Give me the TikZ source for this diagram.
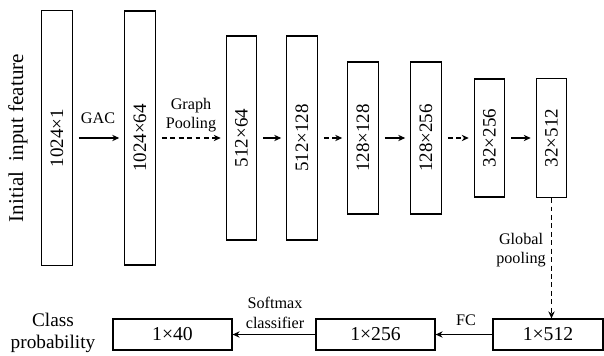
\documentclass[tikz,border=0pt]{standalone}
\usepackage{fontspec}
\setmainfont{Liberation Serif}
\usepackage{graphicx}
\usetikzlibrary{arrows.meta,positioning}

\begin{document}
\begin{tikzpicture}[
  x=0.025cm, y=-0.025cm,
  layer/.style={draw, line width=0.8pt, minimum width=0.76cm, inner sep=0pt, font=\fontsize{13.5}{16}\selectfont},
  vec/.style={draw, line width=0.8pt, minimum width=2.975cm, minimum height=0.775cm, inner sep=0pt, font=\fontsize{14}{16}\selectfont},
  lbl/.style={font=\fontsize{11.5}{14}\selectfont, align=center, inner sep=0pt},
  conv/.style={-{Stealth[length=5pt,width=4.5pt]}, line width=0.8pt, shorten <=0.15cm, shorten >=0.125cm},
  pool/.style={conv, dash pattern=on 3.5pt off 2.5pt},
  >=Stealth
]
  \useasboundingbox (0,0) rectangle (604,355);

  % Feature maps along the top row
  \node[layer, minimum height=6.375cm] (f1) at (57,138) {\rotatebox{90}{1024×1}};
  \node[layer, minimum height=6.35cm] (f2) at (140,138) {\rotatebox{90}{1024×64}};
  \node[layer, minimum height=5.1cm] (f3) at (241.5,138) {\rotatebox{90}{512×64}};
  \node[layer, minimum height=5.1cm] (f4) at (302,138) {\rotatebox{90}{512×128}};
  \node[layer, minimum height=3.8cm] (f5) at (363,138) {\rotatebox{90}{128×128}};
  \node[layer, minimum height=3.8cm] (f6) at (426,138) {\rotatebox{90}{128×256}};
  \node[layer, minimum height=2.95cm] (f7) at (489.5,138) {\rotatebox{90}{32×256}};
  \node[layer, minimum height=2.975cm] (f8) at (551.5,138) {\rotatebox{90}{32×512}};

  \node[font=\fontsize{15}{17}\selectfont, rotate=90] (inp) at (18,138) {Initial\ \ input feature};

  % Layers between the maps
  \draw[conv] (f1) -- (f2);
  \draw[pool] (f2) -- (f3);
  \draw[conv] (f3) -- (f4);
  \draw[pool] (f4) -- (f5);
  \draw[conv] (f5) -- (f6);
  \draw[pool] (f6) -- (f7);
  \draw[conv] (f7) -- (f8);

  \node[lbl] (gac) at (98,118) {GAC};
  \node[lbl] (gp) at (191,115) {Graph\\Pooling};

  % Vectors along the bottom row
  \node[vec, minimum width=2.75cm] (v3) at (548,334.5) {1×512};
  \node[vec] (v2) at (375.5,334.5) {1×256};
  \node[vec] (v1) at (172.5,334.5) {1×40};

  \draw[pool, shorten <=0pt, shorten >=0pt] (f8.south) -- (f8.south |- v3.north);
  \draw[conv, shorten <=0pt, shorten >=0pt] (v3) -- (v2);
  \draw[conv, shorten <=0pt, shorten >=0pt] (v2) -- (v1);

  \node[lbl] (glob) at (521,250) {Global\\pooling};
  \node[lbl] (fc) at (466,320) {FC};
  \node[lbl] (soft) at (275,313) {Softmax\\classifier};
  \node[lbl, font=\fontsize{13.7}{15.6}\selectfont] (cls) at (53,333) {Class\\probability};

\end{tikzpicture}
\end{document}
